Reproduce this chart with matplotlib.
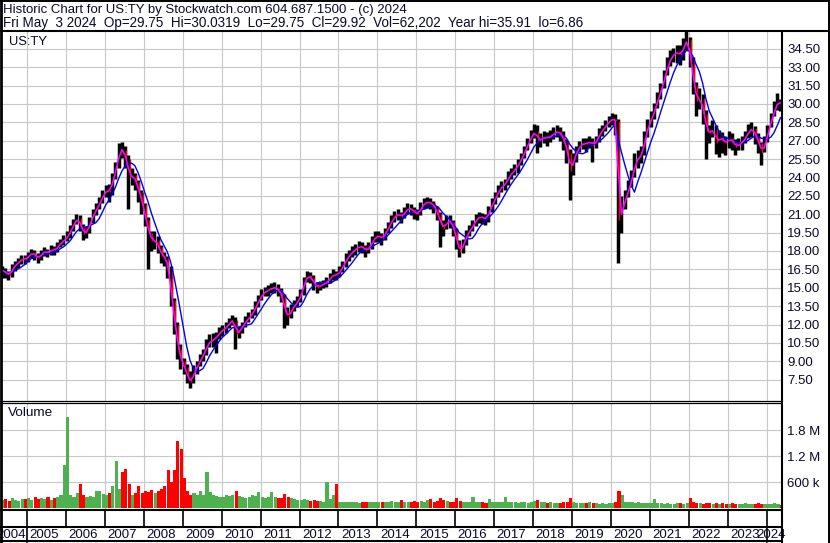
import numpy as np
import pandas as pd
import matplotlib
matplotlib.use("Agg")
import matplotlib.pyplot as plt

plt.rcParams['font.family'] = ['Liberation Sans', 'DejaVu Sans']

# monthly bars, May 2004 .. May 2024
months = pd.date_range("2004-05-01", "2024-05-01", freq="MS")

close = [
    16.4, 16.2, 16.0, 16.6, 16.9, 17.1, 17.4, 17.3,
    17.6, 17.9, 17.6, 17.4, 17.8, 18.0, 17.8, 18.2, 18.0, 18.4, 18.7, 18.9,
    19.2, 19.7, 20.3, 20.7, 20.0, 19.4, 19.6, 20.4, 21.0, 21.5, 22.0, 22.6,
    23.0, 22.8, 24.0, 24.8, 26.3, 26.2, 25.5, 24.0, 24.2, 23.6, 22.8, 21.8,
    20.5, 19.5, 18.8, 18.9, 18.3, 17.6, 17.5, 16.5, 14.0, 12.0, 10.0, 9.0,
    8.5, 7.6, 7.3, 8.2, 8.6, 9.2, 9.6, 10.4, 10.6, 10.8, 11.0, 11.4,
    11.6, 11.8, 12.2, 12.4, 11.2, 11.5, 11.9, 12.3, 12.6, 12.9, 13.5, 14.0,
    14.5, 14.7, 14.8, 15.0, 15.0, 14.8, 14.3, 13.0, 12.6, 13.2, 13.6, 13.9,
    14.5, 15.5, 16.0, 15.8, 15.3, 15.0, 15.2, 15.3, 15.5, 15.8, 16.1, 16.0,
    16.4, 16.8, 17.4, 17.7, 18.0, 18.2, 18.4, 18.3, 18.0, 18.3, 18.8, 19.2,
    19.2, 19.0, 19.5, 20.0, 20.5, 20.9, 21.0, 20.8, 21.2, 21.5, 21.4, 21.1,
    21.0, 21.6, 21.9, 22.0, 21.9, 21.6, 21.0, 20.2, 19.8, 20.5, 20.4, 19.8,
    18.6, 17.9, 18.6, 19.3, 19.7, 20.1, 20.6, 20.8, 20.7, 20.6, 21.3, 21.9,
    22.4, 23.0, 23.3, 23.5, 24.1, 24.4, 24.7, 25.1, 25.6, 26.2, 26.8, 27.4,
    27.8, 27.0, 27.1, 27.3, 27.2, 27.4, 27.6, 27.8, 27.5, 27.0, 26.0, 24.5,
    25.5, 26.2, 26.6, 26.8, 26.7, 27.0, 26.6, 27.0, 27.6, 27.9, 28.3, 28.6,
    28.8, 28.6, 20.5, 21.5, 22.3, 23.2, 24.0, 25.3, 25.6, 25.9, 27.3, 28.3,
    28.8, 29.6, 30.5, 31.2, 32.2, 33.2, 33.8, 34.1, 34.2, 34.0, 34.8, 35.3,
    33.5, 31.5, 30.2, 30.5, 29.2, 27.8, 27.6, 28.0, 26.8, 27.3, 27.0, 26.8,
    27.2, 26.9, 26.5, 26.7, 26.9, 27.3, 27.8, 28.0, 27.4, 26.8, 26.0, 26.8,
    27.9, 28.8, 29.6, 30.3, 29.9,
]

high = [
    16.8, 16.6, 16.4, 16.9, 17.2, 17.4, 17.7, 17.7,
    17.9, 18.2, 18.1, 17.8, 18.1, 18.3, 18.2, 18.5, 18.4, 18.7, 19.0, 19.3,
    19.6, 20.1, 20.6, 21.0, 20.9, 20.2, 20.0, 20.8, 21.4, 21.9, 22.4, 23.0,
    23.4, 23.5, 24.4, 25.3, 26.8, 26.9, 26.6, 25.8, 24.8, 24.4, 23.8, 23.0,
    21.9, 20.8, 19.6, 19.6, 19.2, 18.5, 17.9, 17.6, 16.8, 14.2, 12.2, 10.4,
    9.3, 8.8, 8.2, 8.7, 9.0, 9.6, 10.0, 10.8, 11.2, 11.3, 11.4, 11.8,
    12.0, 12.2, 12.5, 12.8, 12.6, 11.9, 12.2, 12.7, 13.0, 13.3, 13.9, 14.4,
    14.9, 15.1, 15.2, 15.4, 15.5, 15.3, 15.0, 14.5, 13.4, 13.7, 14.0, 14.3,
    14.9, 15.9, 16.4, 16.3, 16.0, 15.5, 15.5, 15.6, 15.9, 16.2, 16.5, 16.4,
    16.8, 17.2, 17.8, 18.1, 18.4, 18.6, 18.8, 18.7, 18.5, 18.7, 19.2, 19.6,
    19.6, 19.5, 19.9, 20.4, 20.9, 21.3, 21.4, 21.2, 21.6, 21.9, 21.8, 21.6,
    21.4, 22.0, 22.3, 22.4, 22.3, 22.1, 21.7, 21.2, 20.5, 20.9, 20.9, 20.5,
    19.9, 18.9, 19.0, 19.7, 20.1, 20.5, 21.0, 21.2, 21.1, 21.0, 21.7, 22.3,
    22.8, 23.4, 23.7, 23.9, 24.5, 24.8, 25.1, 25.5, 26.0, 26.6, 27.2, 27.9,
    28.4, 28.3, 27.6, 27.8, 27.7, 27.9, 28.1, 28.3, 28.1, 27.8, 27.1, 26.3,
    26.0, 26.6, 27.0, 27.2, 27.2, 27.4, 27.2, 27.4, 28.0, 28.3, 28.7, 29.0,
    29.3, 29.2, 28.8, 22.5, 23.0, 23.8, 24.6, 26.0, 26.2, 26.6, 27.8, 28.8,
    29.4, 30.1, 31.0, 31.7, 32.8, 33.8, 34.4, 34.6, 34.8, 34.8, 35.4, 35.91,
    35.5, 33.8, 31.8, 31.3, 30.8, 29.5, 28.3, 28.7, 28.3, 27.9, 27.7, 27.4,
    27.8, 27.6, 27.1, 27.2, 27.4, 27.8, 28.4, 28.5, 28.2, 27.6, 26.9, 27.4,
    28.3, 29.3, 30.2, 30.9, 30.4,
]

low = [
    15.8, 15.8, 15.6, 15.9, 16.4, 16.6, 16.9, 16.9,
    17.1, 17.4, 17.3, 17.0, 17.3, 17.6, 17.5, 17.7, 17.7, 17.9, 18.3, 18.5,
    18.8, 19.1, 19.6, 20.2, 19.6, 18.9, 19.1, 19.5, 20.3, 20.9, 21.4, 21.9,
    22.4, 22.0, 22.6, 23.9, 24.8, 25.6, 24.8, 21.4, 23.4, 23.0, 22.0, 21.0,
    20.0, 16.5, 18.0, 18.2, 17.8, 17.0, 16.8, 15.8, 13.5, 11.2, 9.2, 8.4,
    8.0, 7.2, 6.86, 7.2, 8.0, 8.6, 9.0, 9.5, 10.2, 10.2, 9.7, 10.8,
    11.1, 11.3, 11.7, 12.0, 10.0, 10.9, 11.3, 11.8, 12.2, 12.5, 12.8, 13.4,
    14.0, 14.3, 14.3, 14.6, 14.6, 14.3, 13.8, 11.7, 12.0, 12.5, 13.1, 13.4,
    13.8, 14.4, 15.5, 15.4, 14.8, 14.6, 14.8, 15.0, 15.1, 15.4, 15.6, 15.6,
    15.9, 16.3, 16.7, 17.2, 17.5, 17.7, 17.9, 17.8, 17.5, 17.8, 18.2, 18.7,
    18.7, 18.5, 18.9, 19.5, 19.9, 20.4, 20.5, 20.3, 20.7, 21.0, 20.9, 20.6,
    20.5, 20.9, 21.4, 21.5, 21.4, 21.1, 20.5, 18.3, 19.2, 19.8, 19.9, 19.2,
    18.2, 17.5, 17.8, 18.5, 19.2, 19.6, 20.0, 20.3, 20.2, 20.1, 20.4, 21.2,
    21.8, 22.4, 22.8, 23.0, 23.4, 23.9, 24.2, 24.4, 25.0, 25.6, 26.2, 26.8,
    27.2, 26.0, 26.5, 26.8, 26.6, 26.9, 27.1, 27.3, 27.0, 26.2, 25.2, 22.2,
    24.2, 25.3, 26.1, 26.3, 26.1, 26.4, 25.3, 26.4, 26.9, 27.4, 27.8, 28.1,
    28.3, 27.5, 17.0, 19.5, 21.4, 22.4, 23.2, 24.0, 24.8, 25.2, 25.8, 27.3,
    28.1, 28.8, 29.7, 30.4, 31.3, 32.4, 33.1, 33.4, 33.3, 33.2, 33.6, 34.4,
    33.0, 30.8, 29.0, 29.6, 28.4, 25.5, 26.8, 27.3, 25.9, 25.7, 26.0, 25.8,
    26.4, 26.2, 25.8, 26.2, 26.2, 26.8, 27.2, 27.3, 26.7, 26.0, 25.0, 26.1,
    26.9, 28.1, 29.0, 29.5, 29.4,
]

# volume in thousands
volume_k = [
    180, 200, 160, 220, 190, 170, 210, 200,
    220, 180, 260, 200, 230, 210, 250, 190, 240, 260, 300, 1000,
    2100, 300, 250, 350, 550, 300, 250, 280, 260, 400, 400, 320,
    300, 350, 500, 1080, 450, 830, 900, 550, 300, 350, 500, 350,
    400, 380, 420, 350, 400, 450, 500, 880, 600, 870, 1550, 1360,
    690, 400, 300, 350, 300, 400, 300, 830, 380, 300, 280, 250,
    250, 300, 280, 300, 400, 280, 250, 220, 250, 300, 280, 380,
    250, 240, 260, 370, 250, 230, 220, 330, 250, 220, 200, 180,
    180, 200, 190, 170, 180, 160, 170, 150, 600, 200, 300, 560,
    150, 140, 130, 150, 140, 130, 120, 140, 130, 150, 140, 130,
    140, 130, 150, 140, 160, 130, 140, 180, 150, 140, 130, 170,
    150, 160, 140, 180, 200, 150, 170, 230, 180, 160, 140, 150,
    230, 160, 150, 140, 130, 250, 140, 150, 130, 120, 200, 140,
    150, 130, 140, 250, 150, 130, 140, 120, 130, 140, 120, 130,
    160, 180, 140, 130, 120, 130, 120, 110, 120, 130, 150, 230,
    150, 120, 110, 120, 110, 130, 120, 110, 100, 110, 100, 110,
    120, 150, 390, 300, 150, 130, 140, 120, 130, 120, 110, 120,
    110, 200, 120, 110, 100, 110, 100, 100, 120, 110, 100, 120,
    240, 130, 120, 110, 100, 120, 110, 100, 110, 100, 110, 100,
    100, 110, 100, 90, 100, 110, 100, 90, 100, 120, 100, 90,
    100, 90, 110, 90, 80,
]

price_ticks = [7.5, 9, 10.5, 12, 13.5, 15, 16.5, 18, 19.5, 21, 22.5, 24,
               25.5, 27, 28.5, 30, 31.5, 33, 34.5]
vol_ticks = [600, 1200, 1800]
vol_labels = ["600 k", "1.2 M", "1.8 M"]
years = list(range(2004, 2025))

header1 = "Historic Chart for US:TY by Stockwatch.com 604.687.1500 - (c) 2024"
header2 = ("Fri May  3 2024  Op=29.75  Hi=30.0319  Lo=29.75  Cl=29.92  "
           "Vol=62,202  Year hi=35.91  lo=6.86")

W, H = 830, 543
GRID = "#c8c8c8"
TXT = "#0a0a28"
FS = 9.5


def box(l, t, r, b):
    return [l / W, 1 - b / H, (r - l) / W, (b - t) / H]


t = np.asarray(months.year + (months.month - 1) / 12 + 0.02)
c = np.asarray(close)
prev = np.r_[c[0], c[:-1]]
down = c < prev
ma_fast = pd.Series(c).rolling(2, min_periods=1).mean()
ma_slow = pd.Series(c).rolling(6, min_periods=1).mean()

fig = plt.figure(figsize=(W / 100, H / 100), dpi=100)
xlim = (2004.357, 2024.38)

# price panel
ax = fig.add_axes(box(2, 31.5, 781.5, 400.5))
ax.set_xlim(*xlim)
ax.set_ylim(5.80, 35.91)
ax.set_xticks(years[1:])
ax.set_yticks(price_ticks)
ax.set_yticklabels([f"{v:.2f}" for v in price_ticks])
ax.yaxis.tick_right()
ax.tick_params(axis="y", length=0, pad=4, labelsize=FS, labelcolor=TXT)
ax.tick_params(axis="x", length=0, labelbottom=False)
ax.grid(True, color=GRID, lw=0.8)
ax.set_axisbelow(True)
for s in ax.spines.values():
    s.set_visible(False)

ax.vlines(t, low, high, color="black", lw=2.5, zorder=2)
ax.vlines(t[down] + 0.03, c[down], prev[down], color="red", lw=0.9, zorder=3)
ax.plot(t, ma_slow, color="#0000ff", lw=1.0, zorder=4)
ax.plot(t, ma_fast, color="#ff00ff", lw=1.2, zorder=5)
lbl_ty = ax.text(0.009, 0.972, "US:TY", transform=ax.transAxes, fontsize=FS,
                 color=TXT, va="center", ha="left")

# volume panel
ax2 = fig.add_axes(box(2, 402.5, 781.5, 509.7))
ax2.set_xlim(*xlim)
ax2.set_ylim(-39, 2435)
ax2.set_xticks(years[1:])
ax2.set_yticks(vol_ticks)
ax2.set_yticklabels(vol_labels)
ax2.yaxis.tick_right()
ax2.tick_params(axis="y", length=0, pad=4, labelsize=FS, labelcolor=TXT)
ax2.tick_params(axis="x", length=0, labelbottom=False)
ax2.grid(True, color=GRID, lw=0.8)
ax2.set_axisbelow(True)
for s in ax2.spines.values():
    s.set_visible(False)
vcol = np.where(down, "#ff0000", "#4fb04f")
ax2.bar(t - 0.02, volume_k, width=1 / 12 * 0.95, align="edge", color=vcol,
        lw=0, zorder=2)
lbl_vol = ax2.text(0.008, 0.9, "Volume", transform=ax2.transAxes, fontsize=FS,
                   color=TXT, va="center", ha="left")

# year strip below volume panel
xt = ax2.get_xaxis_transform()
strip_lo = -(527 - 509.7) / (509.7 - 402.5)
label_y = -(534.5 - 509.7) / (509.7 - 402.5)
bottom_y = -(541.5 - 509.7) / (509.7 - 402.5)
for y in years[1:]:
    y0 = bottom_y if y in (2005, 2024) else strip_lo
    ax2.plot([y, y], [0, y0], transform=xt, color="black", lw=1.2,
             clip_on=False)
off = 2.5 / 38.9
for y in years:
    if y == 2004:
        ax2.text(2005 - 0.02, label_y, "2004", transform=xt, ha="right",
                 va="center", fontsize=FS, color=TXT, clip_on=False)
    elif y == 2024:
        ax2.text(2024 - 0.27, label_y, "2024", transform=xt, ha="left",
                 va="center", fontsize=FS, color=TXT, clip_on=False)
    else:
        ax2.text(y + off, label_y, str(y), transform=xt, ha="left",
                 va="center", fontsize=FS, color=TXT, clip_on=False)

# frame + header
fr = fig.add_axes([0, 0, 1, 1], zorder=10)
fr.set_xlim(0, W)
fr.set_ylim(H, 0)
fr.axis("off")
fr.patch.set_alpha(0)
k = dict(color="black", solid_capstyle="butt")
fr.plot([0, 829], [0.6, 0.6], lw=1.4, **k)
fr.plot([0, 829], [31, 31], lw=1.5, **k)
fr.plot([1.2, 1.2], [0, H], lw=2.0, **k)
fr.plot([828.6, 828.6], [0, H], lw=1.4, **k)
fr.plot([781.7, 781.7], [31, H], lw=1.5, **k)
fr.plot([0, 781.7], [400.6, 400.6], lw=0.9, **k)
fr.plot([0, 781.7], [402.8, 402.8], lw=0.9, **k)
fr.plot([0, 781.7], [509.7, 509.7], lw=1.5, **k)
fr.plot([0, 781.7], [526.8, 526.8], lw=1.5, **k)
fr.plot([0, 781.7], [541.3, 541.3], lw=1.5, **k)
h1 = fr.text(3, 9.5, header1, fontsize=FS, color=TXT, va="center", ha="left")
h2 = fr.text(3, 22.8, header2, fontsize=FS, color=TXT, va="center", ha="left")

# scale the free texts so their widths match the reference
fig.canvas.draw()
rend = fig.canvas.get_renderer()
for txt, width_px in [(h1, 407.0), (h2, 584.0), (lbl_ty, 38.0),
                      (lbl_vol, 45.0)]:
    bb = txt.get_window_extent(rend)
    txt.set_fontsize(txt.get_fontsize() * width_px / bb.width)

fig.savefig("out.png", dpi=100, facecolor="white")
